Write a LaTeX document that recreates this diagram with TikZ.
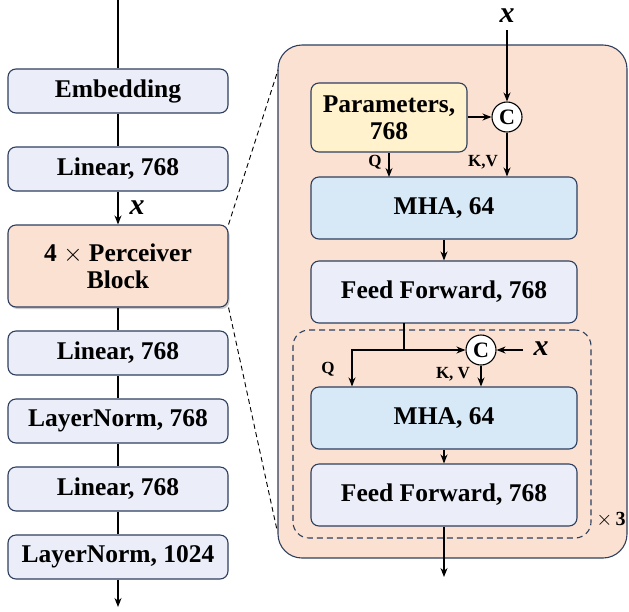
\documentclass[tikz,border=0pt]{standalone}
\usepackage{fontspec}
\newfontfamily\tnr{Liberation Serif}
\usetikzlibrary{arrows.meta,shadows,calc}
\definecolor{navy}{HTML}{2E3F5E}
\definecolor{lav}{HTML}{EBEEF9}
\definecolor{peach}{HTML}{FBE1D2}
\definecolor{mha}{HTML}{D7E8F6}
\definecolor{param}{HTML}{FFF2CC}
\begin{document}
\begin{tikzpicture}[x=1pt,y=-1pt,
  box/.style={draw=navy,line width=1.1pt,rounded corners=8pt,fill=lav,align=center,
    font=\fontsize{25.5}{27}\selectfont\tnr\bfseries,inner sep=0pt},
  lbox/.style={box,minimum width=220pt,minimum height=44pt},
  rbox/.style={box,minimum width=266pt,minimum height=62pt},
  conc/.style={circle,draw=black,line width=1.1pt,fill=white,minimum size=30pt,inner sep=0pt,
    font=\fontsize{22}{22}\selectfont\tnr\bfseries},
  lnk/.style={line width=1.1pt},
  arr/.style={lnk,-{Stealth[length=9pt,width=7pt]}},
  small/.style={font=\fontsize{17}{17}\selectfont\tnr\bfseries,inner sep=0pt},
  xlab/.style={font=\fontsize{30}{30}\selectfont\tnr\bfseries\itshape,inner sep=0pt}]
\useasboundingbox (0,0) rectangle (629,611);
% left column
\node[lbox] (emb) at (118,91) {Embedding};
\node[lbox] (lin1) at (118,169) {Linear, 768};
\node[lbox,fill=peach,minimum height=82pt,drop shadow={opacity=0.4,shadow xshift=1.5pt,shadow yshift=-2pt}] (perc) at (118,266) {4 $\times$ Perceiver\\Block};
\node[lbox] (lin2) at (118,353) {Linear, 768};
\node[lbox] (ln1) at (118,421) {LayerNorm, 768};
\node[lbox] (lin3) at (118,489) {Linear, 768};
\node[lbox] (ln2) at (118,557) {LayerNorm, 1024};
\coordinate (topin) at (118,0);
\coordinate (botout) at (118,607);
\draw[lnk] (topin) -- (emb.north);
\draw[lnk] (emb) -- (lin1);
\draw[arr] (lin1) -- (perc);
\node[xlab] (xl) at (137,208) {x};
\draw[lnk] (perc) -- (lin2);
\draw[lnk] (lin2) -- (ln1);
\draw[lnk] (ln1) -- (lin3);
\draw[lnk] (lin3) -- (ln2);
\draw[arr] (ln2) -- (botout);
% big block
\node[draw=navy,line width=1.1pt,fill=peach,rounded corners=24pt,minimum width=349pt,minimum height=513pt,inner sep=0pt] (big) at (452.5,301.5) {};
\coordinate (zt) at (278,70);
\coordinate (zb) at (277,530);
\draw[dashed,line width=0.9pt,dash pattern=on 5pt off 3.5pt] (perc.north east) -- (zt);
\draw[dashed,line width=0.9pt,dash pattern=on 5pt off 3.5pt] (perc.south east) -- (zb);
\node[draw=navy,line width=1.1pt,dashed,dash pattern=on 6pt off 4pt,rounded corners=16pt,minimum width=298pt,minimum height=208pt,inner sep=0pt] (rep) at (442,434) {};
\node[box,fill=param,minimum width=156pt,minimum height=69pt] (par) at (389,117.5) {Parameters,\\768};
\node[conc] (c1) at (507,117) {C};
\node[rbox,fill=mha] (mha1) at (444,208) {MHA, 64};
\node[rbox] (ff1) at (444,292) {Feed Forward, 768};
\node[conc] (c2) at (481,350) {C};
\node[rbox,fill=mha] (mha2) at (444,418) {MHA, 64};
\node[rbox] (ff2) at (444,495) {Feed Forward, 768};
\node[xlab] (x1) at (507,16) {x};
\coordinate (x1s) at (507,30);
\draw[arr] (x1s) -- (c1.north);
\draw[arr] (par.east |- c1) -- (c1.west);
\draw[arr] (c1.south) -- (c1.south |- mha1.north);
\draw[arr] (par.south -| 389,0) -- (389,177);
\node[small] (q1) at (375,162) {Q};
\node[small] (kv1) at (483,162) {K,V};
\draw[arr] (mha1) -- (ff1);
\coordinate (ffo) at (404,323);
\coordinate (jn) at (404,350);
\coordinate (jl) at (352,350);
\draw[lnk] (ffo) -- (jn);
\draw[arr] (jn) -- (jl) -- (jl |- mha2.north);
\draw[arr] (jn) -- (c2.west);
\node[xlab] (x2) at (541,349) {x};
\coordinate (x2w) at (523,350);
\draw[arr] (x2w) -- (c2.east);
\draw[arr] (c2.south) -- (c2.south |- mha2.north);
\node[small] (q2) at (328,369) {Q};
\node[small] (kv2) at (453,374) {K, V};
\draw[arr] (mha2) -- (ff2);
\coordinate (out) at (444,577);
\draw[arr] (ff2) -- (out);
\node[font=\fontsize{20}{20}\selectfont\tnr\bfseries,inner sep=0pt] (t3) at (611,520) {$\times$\,3};
\end{tikzpicture}
\end{document}
